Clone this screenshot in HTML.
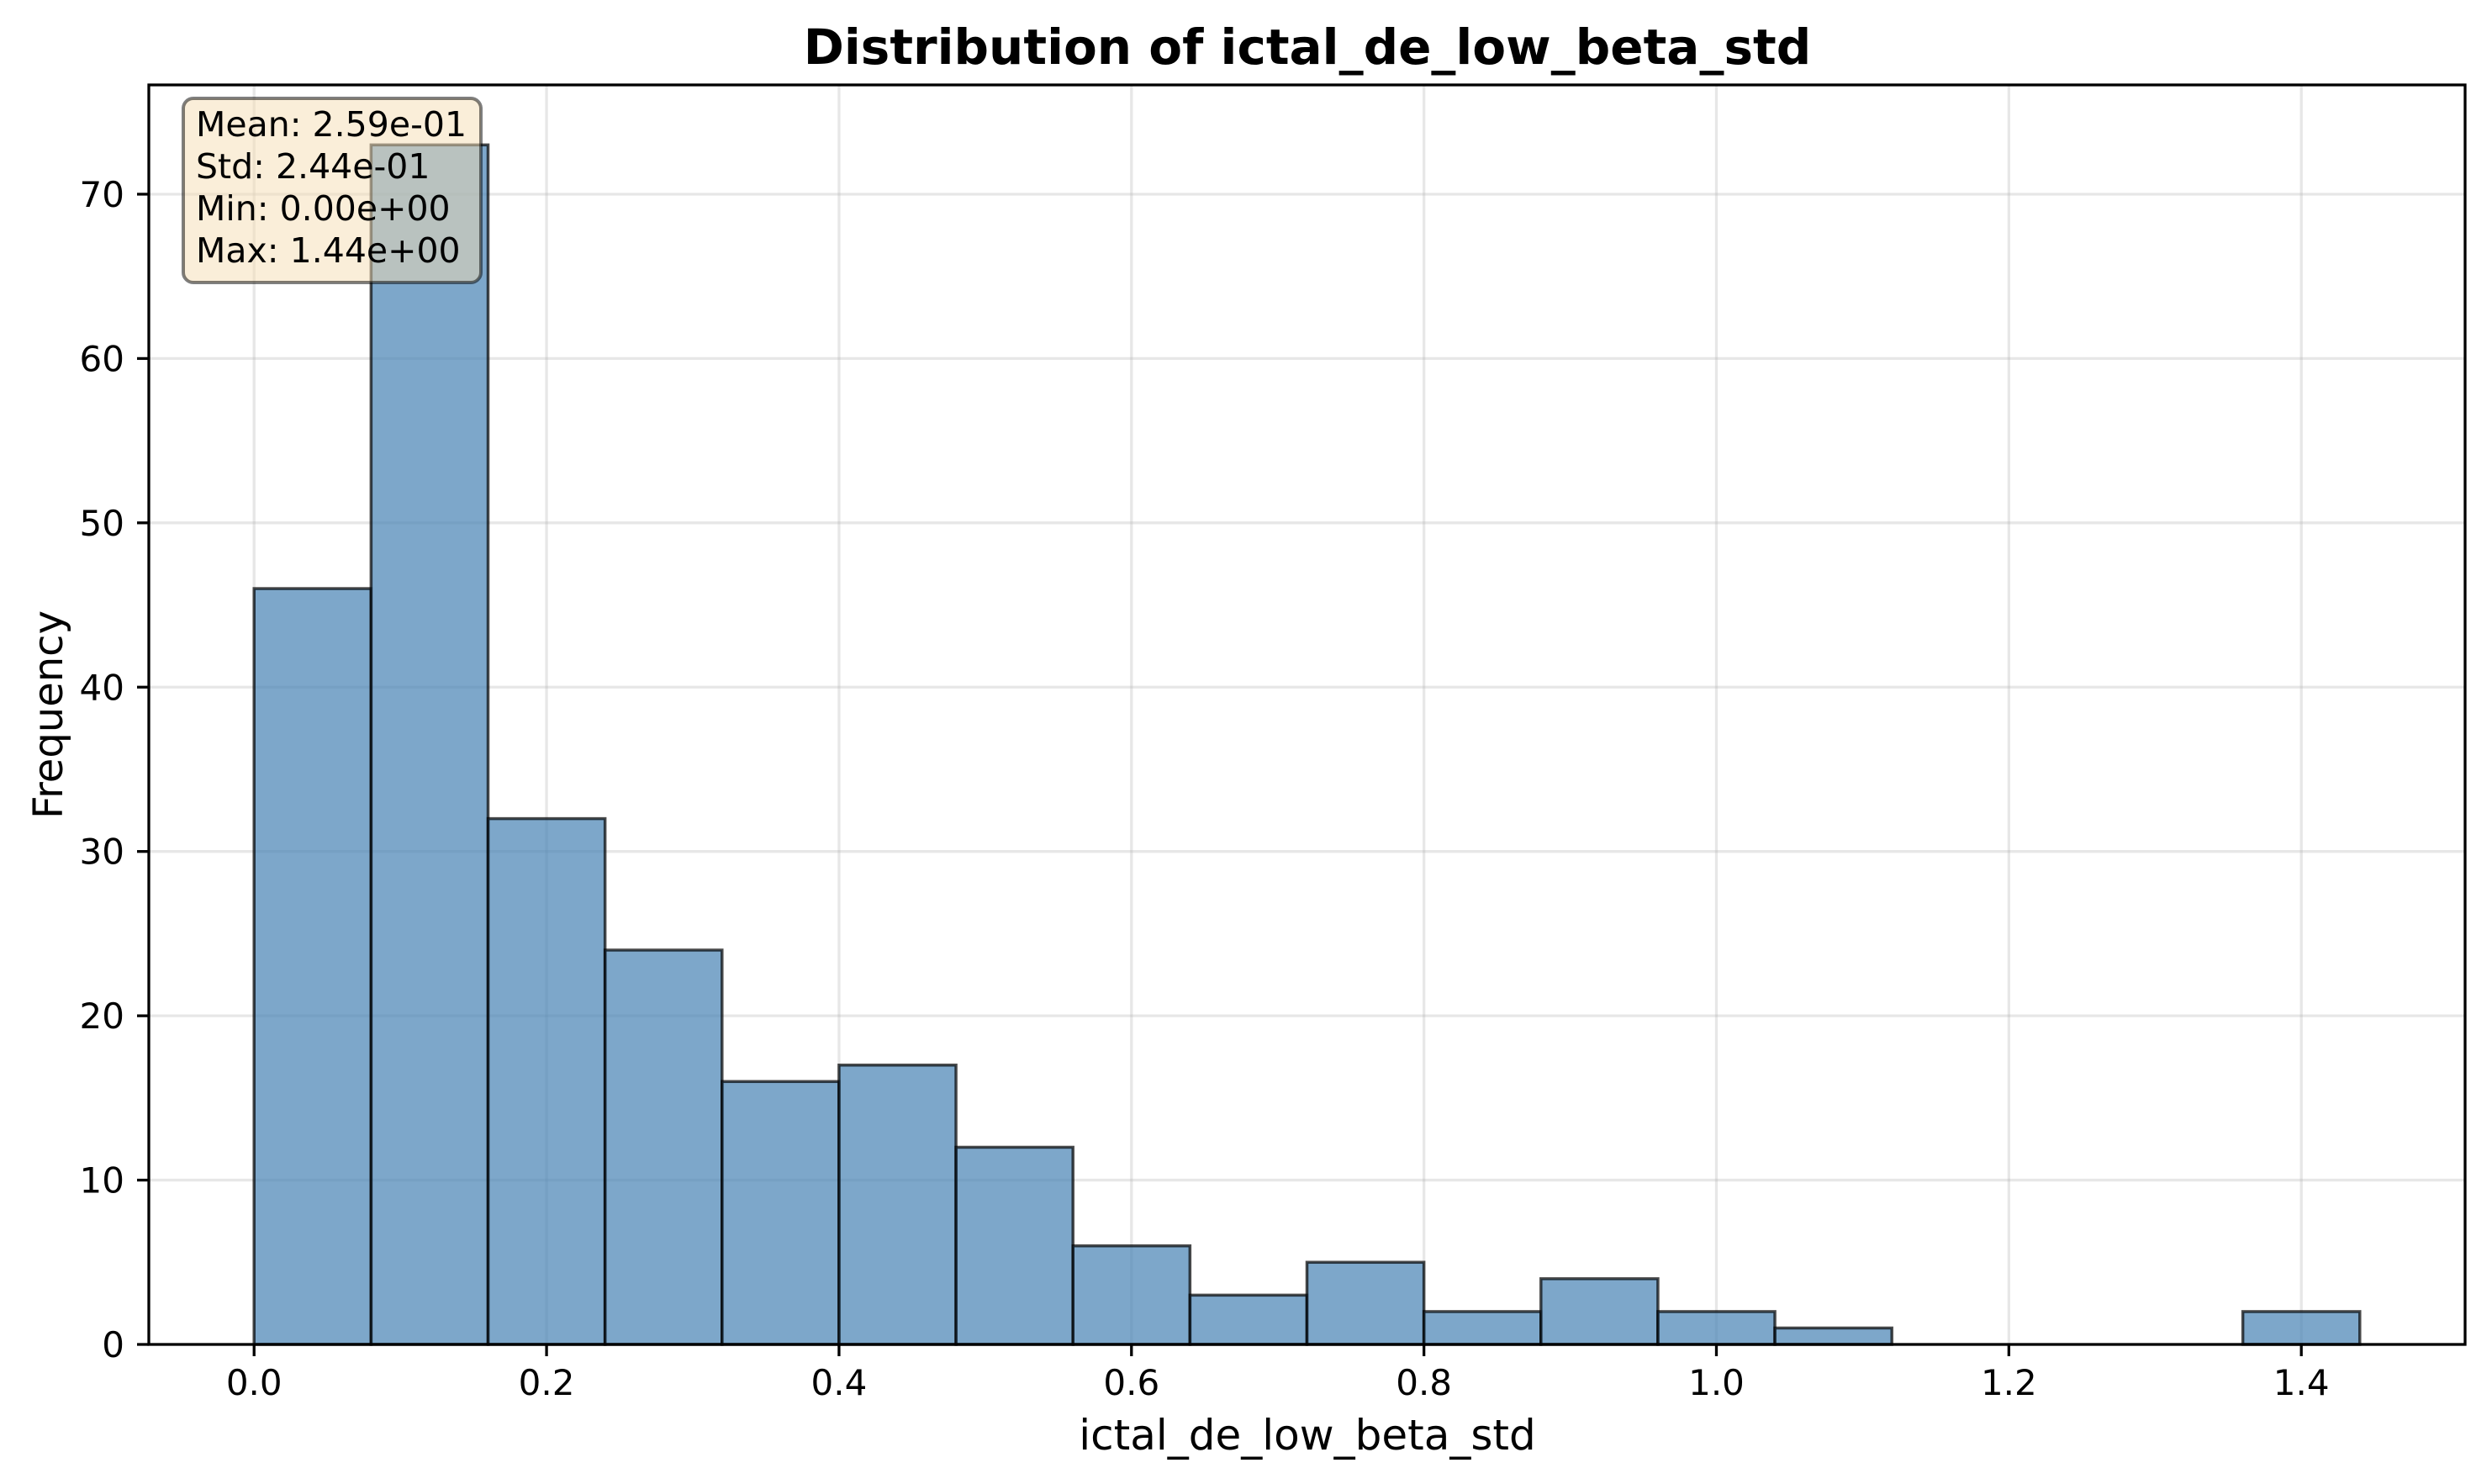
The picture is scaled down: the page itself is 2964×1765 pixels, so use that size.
<!DOCTYPE html>
<html><head><meta charset="utf-8"><style>
html,body{margin:0;padding:0;background:#fff;}
svg{display:block;font-family:"DejaVu Sans","Liberation Sans",sans-serif;}
</style></head><body>
<svg id="chart" width="2964" height="1765" viewBox="0 0 2964 1765" xmlns="http://www.w3.org/2000/svg">
<rect width="2964" height="1765" fill="#fff"/>
<g id="grid"></g>
<g id="bars"></g>
<g id="axes"></g>
<text x="1555" y="76" font-size="58" font-weight="bold" text-anchor="middle">Distribution of ictal_de_low_beta_std</text>
<text x="1555" y="1724" font-size="50" text-anchor="middle">ictal_de_low_beta_std</text>
<text x="0" y="0" font-size="48" text-anchor="middle" transform="translate(74,850) rotate(-90)">Frequency</text>
<g>
<rect x="218" y="117" width="354" height="219" rx="12" fill="rgba(245,222,179,0.5)" stroke="rgba(0,0,0,0.5)" stroke-width="4"/>
<text x="233" y="162" font-size="41">Mean: 2.59e-01</text>
<text x="233" y="212" font-size="41">Std: 2.44e-01</text>
<text x="233" y="262" font-size="41">Min: 0.00e+00</text>
<text x="233" y="312" font-size="41">Max: 1.44e+00</text>
</g>
</svg>
<script>
const binStart = [0,0.08,0.16,0.24,0.32,0.40,0.48,0.56,0.64,0.72,0.80,0.88,0.96,1.04,1.12,1.20,1.28,1.36];
const counts = [46,73,32,24,16,17,12,6,3,5,2,4,2,1,0,0,0,2];
const binWidth = 0.08;
const xTicks = [0.0,0.2,0.4,0.6,0.8,1.0,1.2,1.4];
const xTickLabels = ["0.0","0.2","0.4","0.6","0.8","1.0","1.2","1.4"];
const yTicks = [0,10,20,30,40,50,60,70];
const yTickLabels = ["0","10","20","30","40","50","60","70"];

const L=177,R=2932,T=101,B=1599;
const xmin=-0.072,xmax=1.512,ymin=0,ymax=76.65;
const NS="http://www.w3.org/2000/svg";
function xs(v){return L+(v-xmin)/(xmax-xmin)*(R-L);}
function ys(v){return B-(v-ymin)/(ymax-ymin)*(B-T);}
function mk(tag,attrs,parent){const e=document.createElementNS(NS,tag);for(const k in attrs)e.setAttribute(k,attrs[k]);parent.appendChild(e);return e;}
const grid=document.getElementById('grid'),bars=document.getElementById('bars'),axes=document.getElementById('axes');
xTicks.forEach((t,i)=>{
  const g=mk('line',{x1:xs(t),x2:xs(t),y1:T,y2:B,stroke:'#b0b0b0','stroke-opacity':0.3,'stroke-width':3.3},grid);
  
  
  const tk=mk('line',{x1:xs(t),x2:xs(t),y1:B,y2:B+14,stroke:'#000','stroke-width':3.3},axes);
  
  
  const tl=mk('text',{x:xs(t),y:B+60,'font-size':42,'text-anchor':'middle'},axes);
  tl.textContent=xTickLabels[i];
  
  
});
yTicks.forEach((t,i)=>{
  const g=mk('line',{x1:L,x2:R,y1:ys(t),y2:ys(t),stroke:'#b0b0b0','stroke-opacity':0.3,'stroke-width':3.3},grid);
  
  
  const tk=mk('line',{x1:L-14,x2:L,y1:ys(t),y2:ys(t),stroke:'#000','stroke-width':3.3},axes);
  
  
  const tl=mk('text',{x:148,y:ys(t)+15,'font-size':42,'text-anchor':'end'},axes);
  tl.textContent=yTickLabels[i];
  
  
});
counts.forEach((c,i)=>{
  const x0=xs(binStart[i]),x1=xs(binStart[i]+binWidth),y0=ys(c);
  const r=mk('rect',{x:x0,y:y0,width:x1-x0,height:B-y0,fill:'rgba(70,130,180,0.7)',stroke:'rgba(0,0,0,0.7)','stroke-width':3.5},bars);
  
  
});
const sp=mk('rect',{x:L,y:T,width:R-L,height:B-T,fill:'none',stroke:'#000','stroke-width':3.3},axes);


</script>
</body></html>
